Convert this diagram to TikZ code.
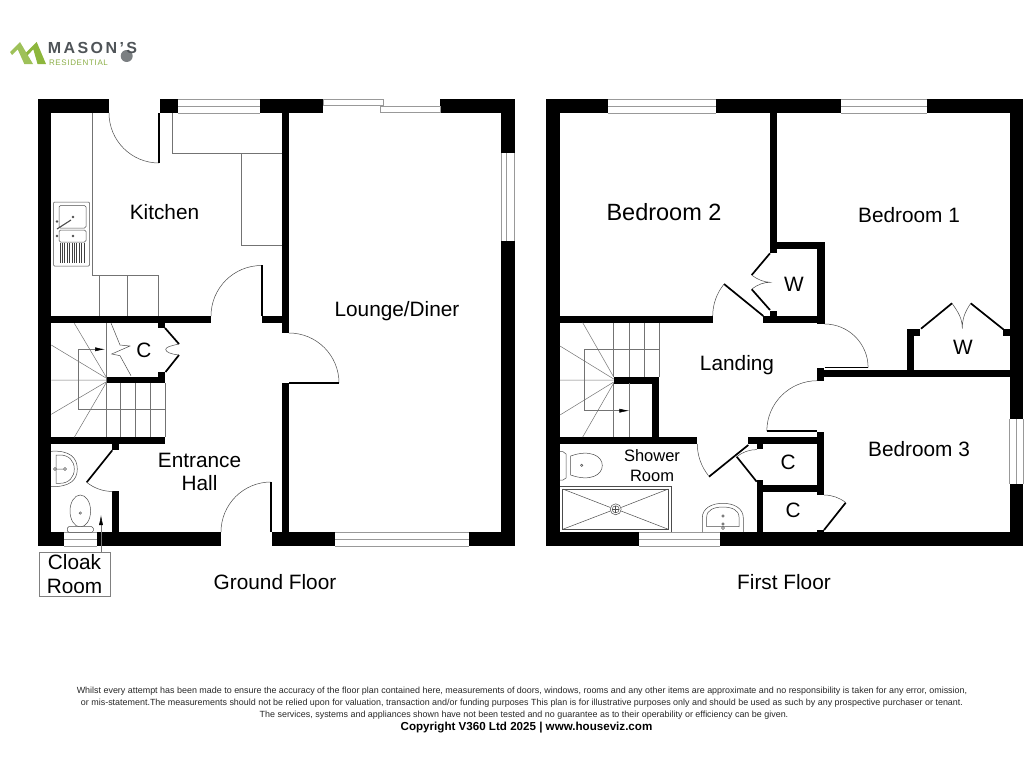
\documentclass[tikz,border=0pt]{standalone}
\usepackage{fontspec}
\setmainfont{Liberation Sans}
\usetikzlibrary{arrows.meta,positioning}
\definecolor{logogreen}{HTML}{8DB63C}
\definecolor{logogrey}{HTML}{4F5458}
\tikzset{
  wall/.style={fill=black},
  unit/.style={draw=black!55,line width=0.6pt},
  pane/.style={draw=black!40,line width=0.8pt},
  swing/.style={draw=black!70,line width=0.5pt},
  leaf/.style={draw=black,line width=1.7pt},
  thinleaf/.style={draw=black,line width=1.1pt},
  tread/.style={draw=black!55,line width=0.5pt},
  ware/.style={draw=black!70,line width=0.5pt},
  room/.style={font=\fontsize{20.8}{23.5}\selectfont,align=center,inner sep=0pt},
  smallroom/.style={font=\fontsize{16.5}{20}\selectfont,align=center,inner sep=0pt},
  footer/.style={font=\fontsize{8.94}{12}\selectfont,inner sep=0pt,text=black!85},
}
\begin{document}
\begin{tikzpicture}[x=1pt,y=-1pt,>={Latex[length=10pt,width=4pt,black]}]
        \useasboundingbox (0,0) rectangle (1024,768);
        % logo
        \fill[logogreen!85] (10,52) -- (20,42) -- (33,64) -- (24.3,64) -- (17.7,49.3) -- (12,55) -- cycle;
        \fill[logogreen] (26,52.5) -- (36.7,42) -- (46,64) -- (37.5,64) -- (33.3,49.3) -- (27.5,55.5) -- cycle;
        \fill[logogrey!75] (126.7,56) circle (6);
        \node[inner sep=0pt,text=logogrey,font=\fontsize{16}{18}\selectfont\bfseries\addfontfeature{LetterSpace=15}] (brand) at (92.5,48) {MASON'S};
        \node[inner sep=0pt,text=logogreen!85!gray,font=\fontsize{8}{10}\selectfont\addfontfeature{LetterSpace=8}] (branduse) at (78.5,62.5) {RESIDENTIAL};

        % ground floor walls
        \foreach \xa/\ya/\xb/\yb in {
          38/99/109/113, 160/99/178/113, 260/99/323/113, 440/99/515/113,
          38/99/51/546, 501/99/515/153, 501/241/515/546,
          38/532/64/546, 97/532/221/546, 272/532/335/546, 469/532/515/546,
          282/113/289/333, 282/383/289/532,
          51/316/211/323, 261.5/316/282/323,
          158/323/165.3/328, 106/376.7/165.3/383.3, 158/372/165.3/383,
          51/437.3/165.3/444.3, 112.3/444/119.3/450.3, 112.3/491/119.3/532}
          \fill[wall] (\xa,\ya) rectangle (\xb,\yb);
        % first floor walls
        \foreach \xa/\ya/\xb/\yb in {
          546/99/608/113, 716/99/841/113, 927/99/1023/113,
          546/99/560/546, 1009.5/99/1023/419, 1009.5/484/1023/546,
          546/532/639/546, 720/532/1023/546,
          770/113/777/253, 770/241.7/824.7/248.7, 817.3/241.7/824.7/324,
          763.3/316/824.7/323, 770/311.3/777/316,
          560/316/712.7/322.7,
          817.3/368.3/824.3/381, 824/370/1009.5/377.3,
          907.3/329.3/914/370, 907.3/329.3/920/336, 1003.3/329.3/1009.5/336,
          613.7/376.7/659/383.7, 651.7/376.7/659/437,
          560/437.3/697.3/444.3, 748.3/437.3/824/444.3,
          817.3/431.7/824/495, 756.7/485/817.3/492.3,
          756.7/444/763/449.3, 756.7/480/763/532, 817.3/530/824/532}
          \fill[wall] (\xa,\ya) rectangle (\xb,\yb);

        % windows
        \foreach \xa/\xb/\ya in {178/260/99, 64/97/532, 335/469/532, 608/716/99, 841/927/99, 639/720/532}{
          \draw[pane] (\xa,\ya) -- (\xb,\ya) (\xa,\ya+7) -- (\xb,\ya+7) (\xa,\ya+14) -- (\xb,\ya+14);
        }
        \foreach \xa/\ya/\yb/\xm in {501/153/241/5, 1009.5/419/484/6.5}{
          \draw[pane] (\xa,\ya) -- (\xa,\yb) (\xa+\xm,\ya) -- (\xa+\xm,\yb) (\xa+13.5,\ya) -- (\xa+13.5,\yb);
        }
        % sliding door
        \draw[pane] (323.3,99.3) rectangle (383.3,105.3);
        \draw[pane] (380,106.7) rectangle (440,112.7);

        % kitchen units
        \draw[unit] (92,113) -- (92,275.7) -- (158.7,275.7) -- (158.7,316);
        \draw[unit] (99,275.7) -- (99,316) (127.5,275.7) -- (127.5,316);
        \draw[unit] (172.5,113) -- (172.5,153.5) -- (282,153.5);
        \draw[unit] (241.5,153.5) -- (241.5,245.5) -- (282,245.5);
        % sink
        \draw[ware,rounded corners=1pt] (53.5,202) rectangle (89.5,266);
        \draw[ware,rounded corners=1.5pt] (59,205.5) rectangle (86,228);
        \draw[ware,rounded corners=1.5pt] (59,230) rectangle (86,242);
        \foreach \dx in {0,2.4,...,26}
          \draw[draw=black!75,line width=0.8pt] (60+\dx,243) -- (60+\dx,263);
        \draw[draw=black!70,line width=1.1pt] (57,229) -- (71,220);
        \fill[black!70] (73,217) circle (1.3) (73,236) circle (1.3) (57,221.5) circle (1.3) (57,236) circle (1.3);

        % doors, ground floor
        \draw[swing] (289,333) arc[start angle=90,end angle=0,radius=50pt];
        \draw[thinleaf] (289,383) -- (339,383);
        \draw[swing] (109,113) arc[start angle=180,end angle=270,radius=50pt];
        \draw[thinleaf] (159,113) -- (159,163);
        \draw[swing] (211,316) arc[start angle=180,end angle=90,radius=50.5pt];
        \draw[thinleaf] (262,265) -- (262,316);
        \draw[swing] (221,532) arc[start angle=180,end angle=90,radius=50pt];
        \draw[thinleaf] (271,482) -- (271,532);
        \draw[leaf] (112.3,450.3) -- (86.7,482.3);
        \draw[swing] (86.7,482.3) arc[start angle=231,end angle=270,radius=41pt];
        \draw[leaf] (165,328) -- (179,344);
        \draw[leaf] (179,355) -- (165.5,372);
        \draw[swing] (179,344) .. controls (170,346) and (166,347) .. (165.7,349.5) .. controls (166,352) and (170,354) .. (179,355);
        \draw[swing] (111,323) -- (120,345) -- (130,346) -- (111.7,354) -- (120,355.7) -- (131,375.7);

        % stairs, ground floor
        \draw[tread] (74.3,323.3) -- (106,376.7) (51.3,345) -- (106,378) (51.3,380) -- (106,380)
          (51.3,414.3) -- (106,382) (74.3,437.3) -- (106,383);
        \draw[tread] (106,323) -- (106,437);
        \foreach \xs in {120.7,135.7,150.3,165.3}
          \draw[tread] (\xs,383) -- (\xs,437);
        \draw[tread] (165.3,409.3) -- (78.3,409.3) -- (78.3,349.3);
        \draw[tread,->] (78.3,349.3) -- (105,349.3);

        % cloak room
        \draw[ware] (51,451.3) .. controls (70,450) and (77.3,458) .. (77.3,469) .. controls (77.3,480) and (70,487) .. (51,486.7);
        \draw[ware] (56,455) -- (60,455) .. controls (69,455) and (74.3,461) .. (74.3,469) .. controls (74.3,477) and (69,483.3) .. (60,483.3) -- (56,483.3) -- cycle;
        \draw[ware] (55,469) circle (1.5) (65,469) circle (1.5) (57,469) -- (63,469);
        \draw[ware] (80.3,511) ellipse (10.3 and 16);
        \draw[ware,fill=white,rounded corners=1.5pt] (67.3,526.7) rectangle (93.3,532.3);
        \draw[ware] (80.3,513) circle (1.2);

        % stairs, first floor
        \draw[tread] (582.7,322.7) -- (613.7,377) (560,346) -- (613.7,379) (560,380) -- (613.7,380)
          (560,415) -- (613.7,382) (582.7,437) -- (613.7,383);
        \foreach \xs in {613.7,629,644,659}
          \draw[tread] (\xs,322.7) -- (\xs,376.7);
        \draw[tread] (613.7,383) -- (613.7,437) (629,383) -- (629,437);
        \draw[tread] (659,349.3) -- (584.3,349.3) -- (584.3,410.7);
        \draw[tread,->] (584.3,410.7) -- (629.3,410.7);

        % doors, first floor
        \draw[leaf] (770,253.3) -- (751.7,275);
        \draw[leaf] (751.7,289.3) -- (770,310);
        \draw[swing] (751.7,275) .. controls (758,280) and (764,282) .. (770,282.3) .. controls (764,282.5) and (758,284) .. (751.7,289.3);
        \draw[leaf] (763.3,316) -- (724,284);
        \draw[swing] (712.7,316) arc[start angle=180,end angle=141,radius=50.6pt];
        \draw[swing] (824.5,324) arc[start angle=90,end angle=0,radius=43.6pt];
        \draw[thinleaf] (824.5,367.7) -- (868,367.7);
        \draw[leaf] (921,328.7) -- (952,303.3);
        \draw[leaf] (970.7,303.3) -- (1003.3,329.3);
        \draw[swing] (952,303.3) .. controls (958,312) and (962.3,318) .. (962.3,328.7) .. controls (962.3,318) and (965,312) .. (970.7,303.3);
        \draw[swing] (817.3,380.7) arc[start angle=90,end angle=180,radius=50.5pt];
        \draw[thinleaf] (766.7,431) -- (817.3,431);
        \draw[swing] (697.3,444) arc[start angle=180,end angle=219,radius=50.3pt];
        \draw[leaf] (709,476.7) -- (748.3,445);
        \draw[leaf] (736.7,456.7) -- (756.7,481.7);
        \draw[swing] (736.7,456.7) arc[start angle=129,end angle=90,radius=32pt];
        \draw[leaf] (824,530) -- (845.7,502.7);
        \draw[swing] (824,495) arc[start angle=90,end angle=51.5,radius=35pt];

        % shower room
        \draw[ware] (560,451.7) -- (563,451.7) -- (566,454) -- (566,478) -- (563,480) -- (560,480);
        \draw[ware] (570.7,456) .. controls (590,449) and (602.3,456) .. (602.3,465.5) .. controls (602.3,475) and (590,482) .. (570.7,475) -- cycle;
        \draw[ware] (581.7,465.3) circle (1.2);
        \draw[ware] (560,486) -- (671.3,486) -- (671.3,532);
        \draw[ware] (562.7,489) rectangle (668.3,529.3);
        \draw[ware] (615.7,509.3) circle (5.5) (615.7,509.3) circle (3.5);
        \draw[ware] (612.2,509.3) -- (619.2,509.3) (615.7,505.8) -- (615.7,512.8);
        \draw[ware] (562.7,489) -- (610.4,507.5) (668.3,489) -- (621,507.5) (562.7,529.3) -- (610.4,511) (668.3,529.3) -- (621,511);
        \draw[ware] (702.3,532) -- (702.3,518) .. controls (702.3,508) and (712,503.3) .. (722.8,503.3) .. controls (733.6,503.3) and (743.3,508) .. (743.3,518) -- (743.3,532);
        \draw[ware] (706.7,526.7) -- (706.7,517) .. controls (706.7,510) and (714,507) .. (722.8,507) .. controls (731.6,507) and (739,510) .. (739,517) -- (739,526.7) -- cycle;
        \draw[ware] (723,516) circle (1.3) (723,524) circle (1.3) (723,528) circle (1.5);

        % labels
        \node[room] (kitchen) at (164.5,212) {Kitchen};
        \node[room] (lounge) at (397,311) {Lounge/Diner};
        \node[room] (hall) at (199.5,472) {Entrance\\Hall};
        \node[room] (cupc) at (144,350.5) {C};
        \node[room] (ground) at (275,582) {Ground Floor};
        \node[room] (first) at (784,582) {First Floor};
        \node[room,font=\fontsize{23.5}{26}\selectfont] (bedtwo) at (664,212) {Bedroom 2};
        \node[room] (bedone) at (909,215) {Bedroom 1};
        \node[room] (bedthree) at (919,449) {Bedroom 3};
        \node[room] (landing) at (737,365) {Landing};
        \node[smallroom] (shower) at (652,466) {Shower\\Room};
        \node[room] (wone) at (794,284) {W};
        \node[room] (wtwo) at (963,347) {W};
        \node[room] (cone) at (788,462) {C};
        \node[room] (ctwo) at (793,510) {C};
        \node[room,draw=black!50,line width=0.5pt,minimum width=71.5pt,minimum height=44.5pt] (cloak) at (74.5,574) {Cloak\\Room};
        \coordinate (cloaktip) at (101,515);
        \draw[tread,->] (cloak.north -| cloaktip) -- (cloaktip);

        % small print
        \node[footer] (finea) at (522,691.5) {Whilst every attempt has been made to ensure the accuracy of the floor plan contained here, measurements of doors, windows, rooms and any other items are approximate and no responsibility is taken for any error, omission,};
        \node[footer] (fineb) at (522,703.5) {or mis-statement.The measurements should not be relied upon for valuation, transaction and/or funding purposes This plan is for illustrative purposes only and should be used as such by any prospective purchaser or tenant.};
        \node[footer] (finec) at (524,715.5) {The services, systems and appliances shown have not been tested and no guarantee as to their operability or efficiency can be given.};
        \node[footer,text=black,font=\fontsize{11.6}{13}\selectfont\bfseries] (copyright) at (526.5,728) {Copyright V360 Ltd 2025 | www.houseviz.com};
\end{tikzpicture}
\end{document}
